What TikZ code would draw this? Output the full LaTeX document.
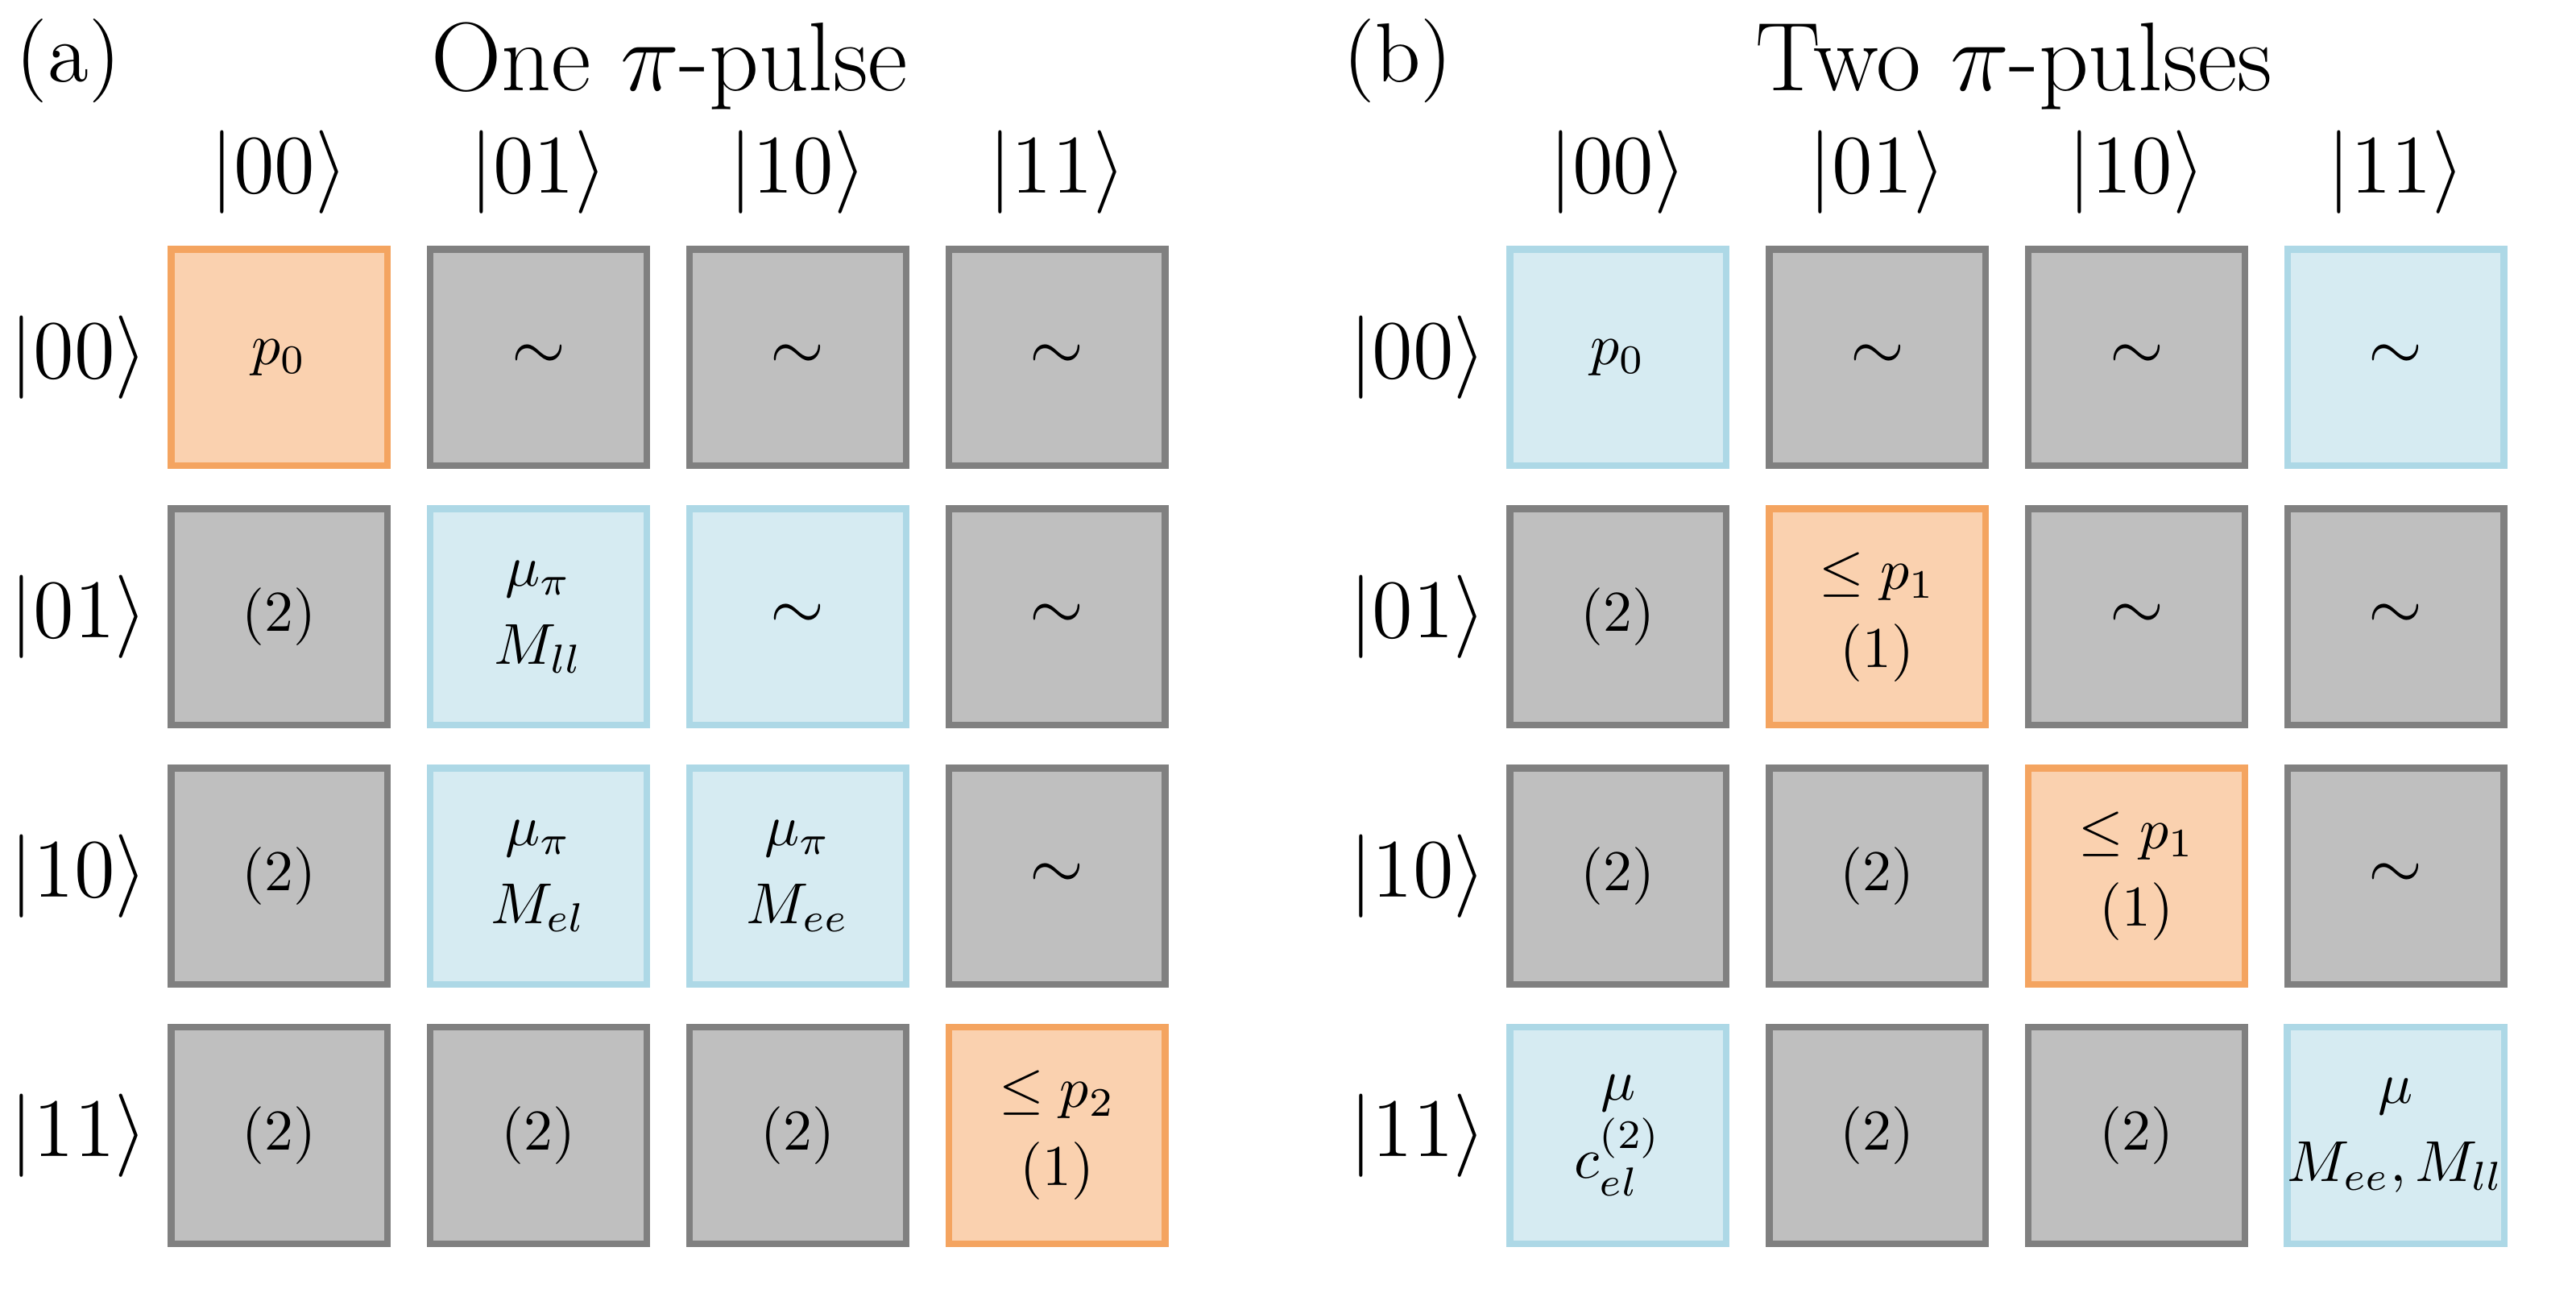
\documentclass[tikz,border=0pt]{standalone}
\usepackage{amsmath,amssymb}
\usepackage{tikz}
\usetikzlibrary{positioning,calc}

\definecolor{cellgray}{HTML}{808080}
\definecolor{cellorange}{HTML}{F4A460}
\definecolor{cellblue}{HTML}{ADD8E6}

\newcommand{\simsym}{{\fontsize{12.3}{14}\selectfont$\sim$}}

\tikzset{
  cell/.style={line width=0.041cm, minimum size=1.317cm, inner sep=0pt, align=center, font=\fontsize{10.3}{13.5}\selectfont},
  graycell/.style={cell, draw=cellgray, fill=cellgray!50},
  orangecell/.style={cell, draw=cellorange, fill=cellorange!50},
  bluecell/.style={cell, draw=cellblue, fill=cellblue!50},
  ket/.style={font=\fontsize{13.5}{16}\selectfont, inner sep=0pt},
  paneltitle/.style={font=\fontsize{16.9}{19}\selectfont, inner sep=0pt, anchor=base},
  paneltag/.style={font=\fontsize{14.5}{17}\selectfont, inner sep=0pt},
}

\begin{document}
\begin{tikzpicture}
\useasboundingbox (0,0) rectangle (15.68,7.89);

% labels of both panels
\node[paneltag] (tag-a) at (0.417,7.52) {(a)};
\node[paneltag] (tag-b) at (8.51,7.52) {(b)};
\node[paneltitle] (title-a) at (4.075,7.34) {One $\pi$-pulse};
\node[paneltitle] (title-b) at (12.26,7.34) {Two $\pi$-pulses};

\foreach \c/\k in {1/00,2/01,3/10,4/11} {
  \node[ket] (a-col-\c) at (\c*1.578+0.122,6.84) {$|\k\rangle$};
  \node[ket] (a-row-\c) at (0.48,7.291-\c*1.578) {$|\k\rangle$};
  \node[ket] (b-col-\c) at (\c*1.578+8.271,6.84) {$|\k\rangle$};
  \node[ket] (b-row-\c) at (8.629,7.291-\c*1.578) {$|\k\rangle$};
}

% (a) one pi-pulse
\foreach \c/\s/\t in {1/orangecell/{$p_0$},2/graycell/{\simsym},3/graycell/{\simsym},4/graycell/{\simsym}}
  \node[\s] (a-1-\c) at (\c*1.578+0.122,5.713) {\t};
\foreach \c/\s/\t in {1/graycell/{$(2)$},2/bluecell/{$\mu_\pi$\\$M_{ll}$},3/bluecell/{\simsym},4/graycell/{\simsym}}
  \node[\s] (a-2-\c) at (\c*1.578+0.122,4.135) {\t};
\foreach \c/\s/\t in {1/graycell/{$(2)$},2/bluecell/{$\mu_\pi$\\$M_{el}$},3/bluecell/{$\mu_\pi$\\$M_{ee}$},4/graycell/{\simsym}}
  \node[\s] (a-3-\c) at (\c*1.578+0.122,2.557) {\t};
\foreach \c/\s/\t in {1/graycell/{$(2)$},2/graycell/{$(2)$},3/graycell/{$(2)$},4/orangecell/{$\leq p_2$\\$(1)$}}
  \node[\s] (a-4-\c) at (\c*1.578+0.122,0.979) {\t};

% (b) two pi-pulses
\foreach \c/\s/\t in {1/bluecell/{$p_0$},2/graycell/{\simsym},3/graycell/{\simsym},4/bluecell/{\simsym}}
  \node[\s] (b-1-\c) at (\c*1.578+8.271,5.713) {\t};
\foreach \c/\s/\t in {1/graycell/{$(2)$},2/orangecell/{$\leq p_1$\\$(1)$},3/graycell/{\simsym},4/graycell/{\simsym}}
  \node[\s] (b-2-\c) at (\c*1.578+8.271,4.135) {\t};
\foreach \c/\s/\t in {1/graycell/{$(2)$},2/graycell/{$(2)$},3/orangecell/{$\leq p_1$\\$(1)$},4/graycell/{\simsym}}
  \node[\s] (b-3-\c) at (\c*1.578+8.271,2.557) {\t};
\foreach \c/\s/\t in {1/bluecell/{$\mu$\\$c_{el}^{(2)}$},2/graycell/{$(2)$},3/graycell/{$(2)$},4/bluecell/{$\mu$\\$M_{ee},M_{ll}$}}
  \node[\s] (b-4-\c) at (\c*1.578+8.271,0.979) {\t};
\end{tikzpicture}
\end{document}
